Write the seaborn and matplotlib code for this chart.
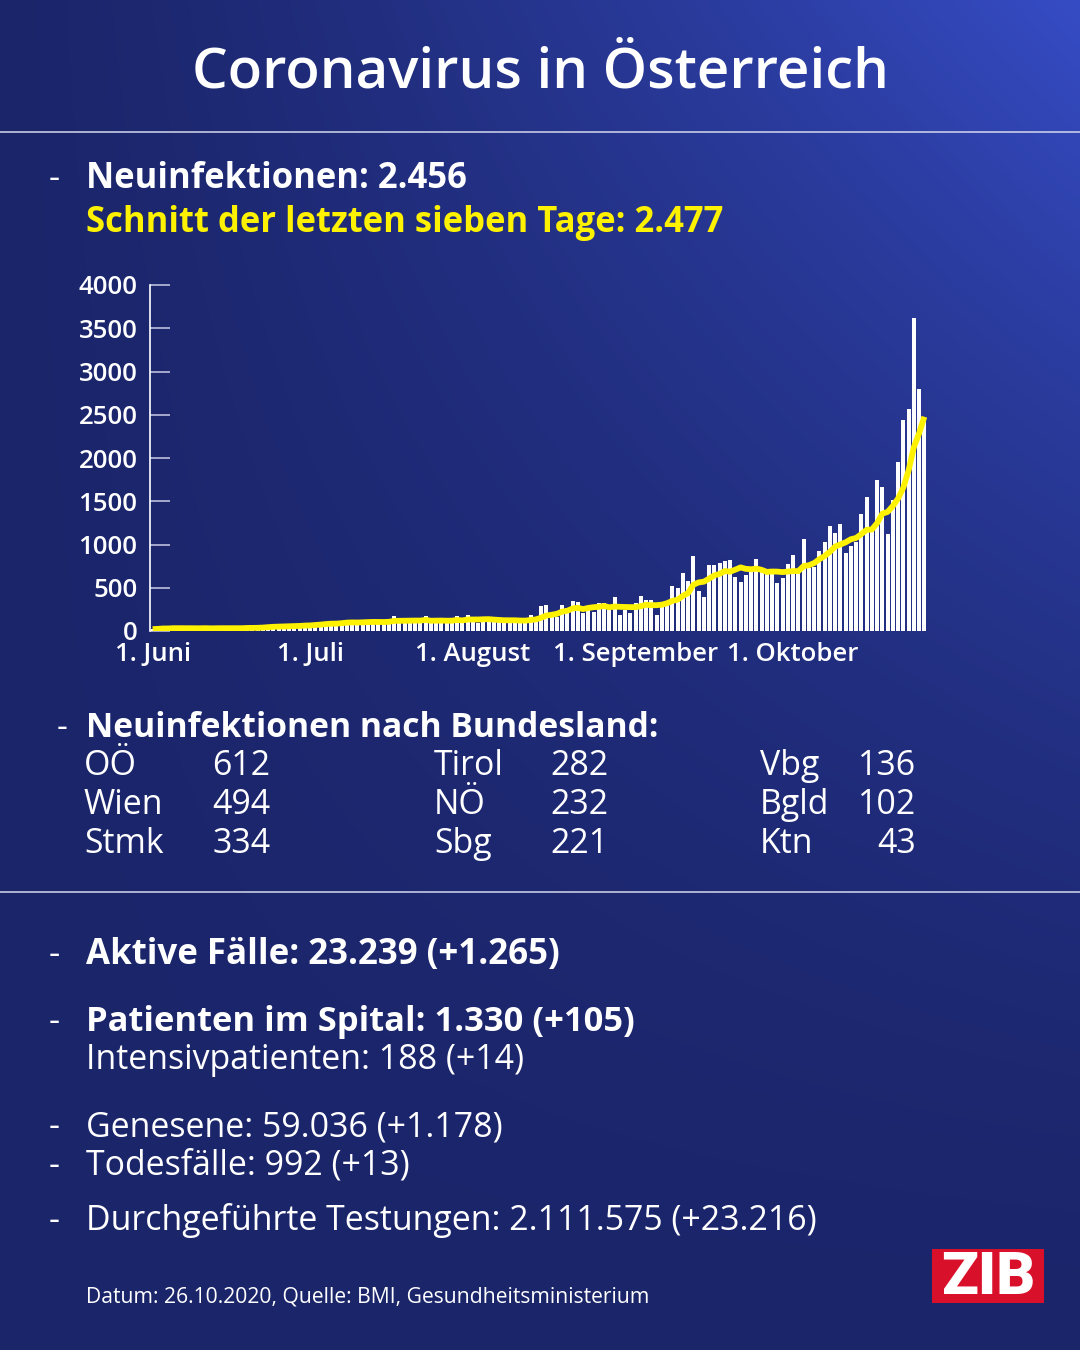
import numpy as np
import pandas as pd
import matplotlib
matplotlib.use("Agg")
import matplotlib.pyplot as plt
from matplotlib.patches import Rectangle
import seaborn as sns

# ---------------- data ----------------
june = [22, 27, 38, 30, 45, 33, 28, 21, 26, 35, 40, 32, 41, 30, 22, 24, 31, 45, 52, 44,
        38, 43, 55, 62, 58, 70, 52, 48, 66, 82]
july = [75, 88, 106, 95, 80, 70, 117, 122, 104, 98, 110, 95, 88, 112, 119, 120, 175, 118,
        95, 104, 112, 120, 175, 106, 128, 98, 92, 117, 175, 142, 180]
august = [130, 95, 110, 125, 140, 118, 150, 128, 95, 89, 120, 190, 166, 285, 305, 158, 166,
          297, 262, 351, 335, 204, 254, 224, 328, 328, 243, 397, 181, 243, 212]
september = [328, 405, 358, 358, 189, 281, 328, 520, 501, 667, 582, 867, 466, 389, 767, 767,
             782, 813, 821, 628, 567, 651, 736, 832, 713, 655, 659, 559, 613, 775]
october = [875, 713, 1060, 725, 736, 925, 1033, 1214, 1137, 1233, 898, 983, 1032, 1349, 1553,
           1168, 1746, 1668, 1121, 1513, 1958, 2435, 2571, 3614, 2792, 2456]
months = [june, july, august, september, october]
month_labels = ["1. Juni", "1. Juli", "1. August", "1. September", "1. Oktober"]
y_ticks = [0, 500, 1000, 1500, 2000, 2500, 3000, 3500, 4000]

states_col1 = [("OÖ", "612"), ("Wien", "494"), ("Stmk", "334")]
states_col2 = [("Tirol", "282"), ("NÖ", "232"), ("Sbg", "221")]
states_col3 = [("Vbg", "136"), ("Bgld", "102"), ("Ktn", "43")]

title = "Coronavirus in Österreich"
line_new = "Neuinfektionen: 2.456"
line_avg = "Schnitt der letzten sieben Tage: 2.477"
line_bl = "Neuinfektionen nach Bundesland:"
line_active = "Aktive Fälle: 23.239 (+1.265)"
line_hosp = "Patienten im Spital: 1.330 (+105)"
line_icu = "Intensivpatienten: 188 (+14)"
line_rec = "Genesene: 59.036 (+1.178)"
line_dead = "Todesfälle: 992 (+13)"
line_test = "Durchgeführte Testungen: 2.111.575 (+23.216)"
line_src = "Datum: 26.10.2020, Quelle: BMI, Gesundheitsministerium"

cases = np.concatenate([np.array(m, dtype=float) for m in months])
month_starts = np.cumsum([0] + [len(m) for m in months[:-1]])

df = pd.DataFrame({"day": np.arange(len(cases)), "cases": cases})
df["avg"] = df["cases"].rolling(7, min_periods=1).mean()

# ---------------- style ----------------
sns.set_style("white")
plt.rcParams["font.family"] = ["Open Sans", "DejaVu Sans"]
YELLOW = "#fff200"
W, H = 1080, 1350

fig = plt.figure(figsize=(10.8, 13.5), dpi=100)
bg = fig.add_axes([0, 0, 1, 1])
bg.set_xlim(0, W)
bg.set_ylim(H, 0)
bg.axis("off")

# background gradient
xx, yy = np.meshgrid(np.linspace(0, 1, 216), np.linspace(0, 1, 270))
f = np.clip(xx, 0, 1) ** 1.3 * (1 - yy) ** 1.6
dark = np.array([27, 37, 106]) / 255
bright = np.array([54, 76, 196]) / 255
grad = dark[None, None, :] + (bright - dark)[None, None, :] * f[..., None]
bg.imshow(grad, extent=[0, W, H, 0], aspect="auto", zorder=0, interpolation="bilinear")

renderer = fig.canvas.get_renderer()


def fit_text(x, y, s, width, size=20, ha="left", **kw):
    t = bg.text(x, y, s, fontsize=size, ha=ha, va="baseline", zorder=3, **kw)
    w = t.get_window_extent(renderer=renderer).width
    t.set_fontsize(size * width / w)
    return t


def dash(x, y, size):
    bg.text(x, y, "-", fontsize=size, ha="center", va="baseline", color="white", zorder=3)


# separator lines
for ly in (132, 892):
    bg.plot([0, W], [ly, ly], color="#d5d9ee", lw=1.1, zorder=2)

# title
fit_text(540, 87, title, 696, ha="center", weight="semibold", color="white")

# header lines
t = fit_text(86, 188, line_new, 381, weight="bold", color="white")
dash(54, 188, t.get_fontsize())
fit_text(86, 232, line_avg, 637, weight="bold", color=YELLOW)

# regular size from longest regular line
t_test = fit_text(86, 1230, line_test, 730, color="white")
reg = t_test.get_fontsize()
dash(54, 1230, reg)

# Bundesland section
t = fit_text(86, 737, line_bl, 572, weight="bold", color="white")
dash(62, 737, t.get_fontsize())
row_y = [775, 814, 853]
for i, (n, v) in enumerate(states_col1):
    bg.text(84, row_y[i], n, fontsize=reg, color="white", va="baseline", zorder=3)
    bg.text(212, row_y[i], v, fontsize=reg, color="white", va="baseline", zorder=3)
for i, (n, v) in enumerate(states_col2):
    bg.text(434, row_y[i], n, fontsize=reg, color="white", va="baseline", zorder=3)
    bg.text(550, row_y[i], v, fontsize=reg, color="white", va="baseline", zorder=3)
for i, (n, v) in enumerate(states_col3):
    bg.text(760, row_y[i], n, fontsize=reg, color="white", va="baseline", zorder=3)
    bg.text(916, row_y[i], v, fontsize=reg, color="white", va="baseline", ha="right", zorder=3)

# lower section
t = fit_text(86, 964, line_active, 474, weight="bold", color="white")
dash(54, 964, t.get_fontsize())
t = fit_text(86, 1031, line_hosp, 547, weight="bold", color="white")
dash(54, 1031, t.get_fontsize())
bg.text(86, 1069, line_icu, fontsize=reg, color="white", va="baseline", zorder=3)
bg.text(86, 1136, line_rec, fontsize=reg, color="white", va="baseline", zorder=3)
dash(54, 1136, reg)
bg.text(86, 1175, line_dead, fontsize=reg, color="white", va="baseline", zorder=3)
dash(54, 1175, reg)
fit_text(86, 1302, line_src, 564, color="white")

# ZIB logo
bg.add_patch(Rectangle((932, 1249), 112, 54, facecolor="#d9102a", edgecolor="none", zorder=3))
zt = bg.text(988, 1294, "ZIB", fontsize=30, ha="center", va="baseline", color="white",
             weight="heavy", family=["Roboto", "DejaVu Sans"], zorder=4)
zw = zt.get_window_extent(renderer=renderer).width
zt.set_fontsize(30 * 94 / zw)

# ---------------- chart ----------------
ax = fig.add_axes([150 / W, 1 - 631 / H, 777 / W, 346 / H])
ax.patch.set_alpha(0)
sns.barplot(data=df, x="day", y="cases", color="white", width=0.72, native_scale=True,
            saturation=1, edgecolor="none", linewidth=0, ax=ax, zorder=2)
sns.lineplot(data=df, x="day", y="avg", color=YELLOW, linewidth=4.2, ax=ax, zorder=3,
             solid_capstyle="butt")
ax.set_xlim(-0.5, len(cases) - 0.5)
ax.set_ylim(0, 4000)
ax.set_xlabel("")
ax.set_ylabel("")
for s in ("top", "right", "bottom"):
    ax.spines[s].set_visible(False)
ax.spines["left"].set_color("white")
ax.spines["left"].set_linewidth(1.2)
ax.set_yticks(y_ticks)
ax.set_yticklabels([str(v) for v in y_ticks], fontsize=18.5, fontweight="semibold", color="white")
ax.tick_params(axis="y", which="major", left=True, direction="in", length=14.4, width=1.1,
               color="#c9cde6", pad=9)
ax.set_xticks(month_starts)
ax.set_xticklabels(month_labels, fontsize=18.5, fontweight="semibold", color="white")
ax.tick_params(axis="x", bottom=True, length=0, pad=8)
for lbl in ax.get_yticklabels():
    lbl.set_zorder(4)

fig.savefig("out.png", dpi=100)
